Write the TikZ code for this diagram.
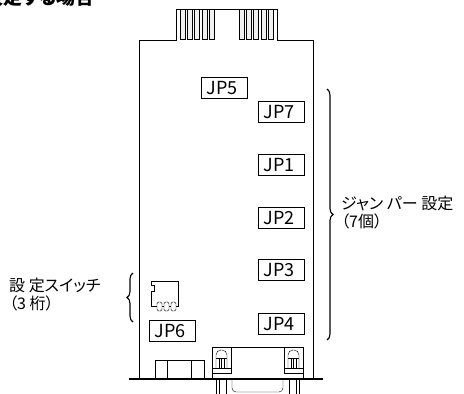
\documentclass[tikz,border=0pt]{standalone}
\usepackage{fontspec}
\setmainfont[RawFeature=+palt]{Noto Sans CJK JP}
\usetikzlibrary{positioning}
\usetikzlibrary{decorations.pathreplacing}

\tikzset{
	jp/.style={draw, anchor=north west, minimum width=46pt, minimum height=21pt, inner sep=0pt, text width=35pt, align=left, font=\fontsize{18}{18}\selectfont},
	contact/.style={draw, fill=gray!12},
	lbl/.style={anchor=north west, align=left, inner sep=0pt, font=\fontsize{16}{18}\selectfont},
	bracebar/.style={decorate, decoration={brace, amplitude=6pt}, line width=1.1pt}
}

\begin{document}
\begin{tikzpicture}[x=1pt, y={(0,-1pt)}]
	\useasboundingbox (0,0) rectangle (464,394);
	
	\node[anchor=base east, inner sep=0pt, font=\fontsize{19}{19}\selectfont\bfseries] (head) at (95,4) {設定する場合};
	
	% board
	\draw (139,379) -- (139,40) -- (176,40) -- (176,9) -- (277,9) -- (277,40) -- (313,40) -- (313,379);
	\foreach \x in {180,187,194.5,202,209}
		\draw[contact] (\x,9) rectangle (\x+5,39);
	\foreach \x in {239,246.5,253.5,261,268}
		\draw[contact] (\x,9) rectangle (\x+5,39);
	
	\node[jp] (jp5) at (201,77) {JP5};
	\node[jp] (jp7) at (258,101) {JP7};
	\node[jp] (jp1) at (258,154) {JP1};
	\node[jp] (jp2) at (258,207) {JP2};
	\node[jp] (jp3) at (258,259) {JP3};
	\node[jp] (jp4) at (258,313) {JP4};
	\node[jp] (jp6) at (149,320) {JP6};
	
	% dip switch
	\draw (151,306) -- (151,291) -- (154,291) -- (154,285) -- (151,285) -- (151,281) -- (178,281) -- (178,306) -- cycle;
	\foreach \x in {157,164,171}
		\draw[fill=white, rounded corners=1.5pt] (\x,302) rectangle (\x+5,311);
	
	% connectors
	\draw (155,360) rectangle (204,379);
	\draw (167,360) -- (167,379);
	\draw (191,360) -- (191,379);
	
	\draw (212,347) rectangle (303,379);
	\foreach \x in {212,284} {
		\draw (\x,347) rectangle (\x+19,373);
		\draw (\x,368) -- (\x+19,368);
		\draw[rounded corners=5pt] (\x+4,368) -- (\x+4,350) -- (\x+15,350) -- (\x+15,368);
		\draw (\x+4,358) -- (\x+15,358);
		\foreach \d in {7,9.5,12}
			\draw (\x+\d,358) -- (\x+\d,368);
	}
	\draw[rounded corners=4pt] (232,379) -- (232,392) -- (283,392) -- (283,379);
	\foreach \x in {216,219,226,289,296,299}
		\draw (\x,379) -- (\x,394);
	\draw[line width=2.5pt] (129,379) -- (323,379);
	
	% braces
	\draw[bracebar] (327,89) -- (327,340);
	\node[lbl] (jumper) at (341,196) {ジャン パー 設定\\（7個）};
	\draw[bracebar] (133,322) -- (133,273);
	\node[lbl] (switch) at (9,278) {設 定スイッチ\\（3 桁）};
\end{tikzpicture}
\end{document}
